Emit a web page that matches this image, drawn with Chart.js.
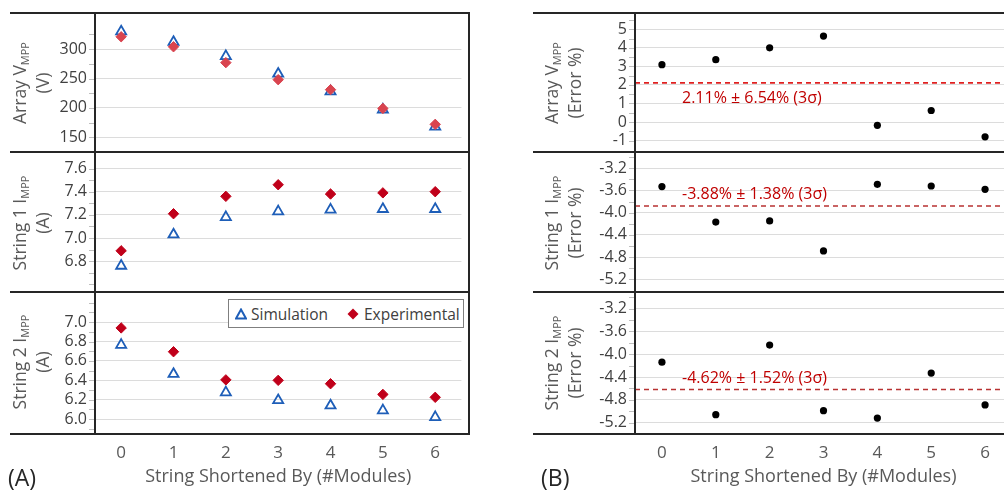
<!DOCTYPE html>
<html><head><meta charset="utf-8">
<script src="https://cdn.jsdelivr.net/npm/chart.js@4.4.1/dist/chart.umd.min.js"></script>
<style>
html,body{margin:0;padding:0;width:1004px;height:491px;overflow:hidden;background:#fff;}
body{position:relative;font-family:"Open Sans",sans-serif;}
.box{position:absolute;}
.hl{position:absolute;height:2px;background:#262626;z-index:5;}
.vl{position:absolute;width:2px;background:#262626;z-index:5;}
.yt{position:absolute;transform:translate(-50%,-50%) rotate(-90deg);white-space:nowrap;text-align:center;color:#595959;font-size:17.5px;line-height:23px;}
.yt sub{font-size:11px;vertical-align:-3px;line-height:0;}
.ann{position:absolute;color:#c00000;font-size:16px;white-space:nowrap;transform:translateY(-50%);z-index:6;}
.tag{position:absolute;font-size:23px;color:#262626;transform:translateY(-50%);}
.legend{position:absolute;left:228px;top:299px;width:234px;height:27px;border:1px solid #7f7f7f;background:#fff;z-index:6;color:#404040;font-size:15.5px;}
.legend span{position:absolute;top:50%;transform:translateY(-50%);white-space:nowrap;}
.legend svg{position:absolute;top:50%;transform:translateY(-50%);}
</style></head>
<body>
<script>
// ---------------- DATA ----------------
const modules = [0, 1, 2, 3, 4, 5, 6];
const xTickLabels = ['0', '1', '2', '3', '4', '5', '6'];

const simArrayV = [330, 312, 288, 258, 228, 197, 168];
const expArrayV = [321, 304, 277, 248, 231, 199, 172];
const simString1I = [6.76, 7.03, 7.18, 7.23, 7.245, 7.25, 7.25];
const expString1I = [6.89, 7.21, 7.36, 7.46, 7.38, 7.39, 7.40];
const simString2I = [6.765, 6.465, 6.275, 6.195, 6.14, 6.09, 6.02];
const expString2I = [6.94, 6.695, 6.405, 6.40, 6.365, 6.255, 6.225];

const errArrayV = [3.09, 3.36, 4.00, 4.63, -0.18, 0.62, -0.80];
const errString1I = [-3.53, -4.17, -4.15, -4.69, -3.49, -3.52, -3.58];
const errString2I = [-4.14, -5.06, -3.84, -4.99, -5.12, -4.33, -4.89];

const errMean = [2.11, -3.88, -4.62];
const errThreeSigma = [6.54, 1.38, 1.52];

const ticksA1 = [150, 200, 250, 300];
const ticksA2 = [6.8, 7.0, 7.2, 7.4, 7.6];
const ticksA3 = [6.0, 6.2, 6.4, 6.6, 6.8, 7.0];
const ticksB1 = [-1, 0, 1, 2, 3, 4, 5];
const ticksB2 = [-5.2, -4.8, -4.4, -4.0, -3.6, -3.2];
const ticksB3 = [-5.2, -4.8, -4.4, -4.0, -3.6, -3.2];
</script>

<!-- layout -->
<div class="box" id="pA1" style="left:45px;top:13px;width:424px;height:139px"><canvas id="cA1"></canvas></div>
<div class="box" id="pA2" style="left:45px;top:152px;width:424px;height:140px"><canvas id="cA2"></canvas></div>
<div class="box" id="pA3" style="left:45px;top:292px;width:424px;height:199px"><canvas id="cA3"></canvas></div>
<div class="box" id="pB1" style="left:585px;top:13px;width:431px;height:139px"><canvas id="cB1"></canvas></div>
<div class="box" id="pB2" style="left:585px;top:152px;width:431px;height:140px"><canvas id="cB2"></canvas></div>
<div class="box" id="pB3" style="left:585px;top:292px;width:431px;height:199px"><canvas id="cB3"></canvas></div>

<!-- frame lines -->
<div class="hl" style="left:10px;width:460px;top:12px"></div>
<div class="hl" style="left:10px;width:460px;top:151px"></div>
<div class="hl" style="left:10px;width:460px;top:291px"></div>
<div class="hl" style="left:10px;width:460px;top:433px"></div>
<div class="vl" style="left:94px;top:12px;height:423px"></div>
<div class="vl" style="left:468px;top:12px;height:423px"></div>
<div class="hl" style="left:533px;width:471px;top:12px"></div>
<div class="hl" style="left:533px;width:471px;top:151px"></div>
<div class="hl" style="left:533px;width:471px;top:291px"></div>
<div class="hl" style="left:533px;width:471px;top:433px"></div>
<div class="vl" style="left:634px;top:12px;height:423px"></div>

<!-- axis titles -->
<div class="yt" style="left:31px;top:83px">Array V<sub>MPP</sub><br>(V)</div>
<div class="yt" style="left:31px;top:223px">String 1 I<sub>MPP</sub><br>(A)</div>
<div class="yt" style="left:31px;top:362px">String 2 I<sub>MPP</sub><br>(A)</div>
<div class="yt" style="left:563px;top:83px">Array V<sub>MPP</sub><br>(Error %)</div>
<div class="yt" style="left:563px;top:223px">String 1 I<sub>MPP</sub><br>(Error %)</div>
<div class="yt" style="left:563px;top:363px">String 2 I<sub>MPP</sub><br>(Error %)</div>

<div class="tag" style="left:8px;top:477px">(A)</div>
<div class="tag" style="left:541px;top:477px">(B)</div>

<div class="ann" id="ann1" style="left:682px;top:97px"></div>
<div class="ann" id="ann2" style="left:682px;top:193px"></div>
<div class="ann" id="ann3" style="left:682px;top:377px"></div>

<div class="legend">
  <svg width="12" height="12" style="left:6px"><polygon points="6,1.5 11,10.5 1,10.5" fill="none" stroke="#1e5eb8" stroke-width="2"/></svg>
  <span style="left:22px">Simulation</span>
  <svg width="12" height="12" style="left:118px"><polygon points="6,0.5 11.5,6 6,11.5 0.5,6" fill="#c0001a"/></svg>
  <span style="left:135px">Experimental</span>
</div>

<script>
Chart.defaults.font.family = '"Open Sans", sans-serif';
Chart.defaults.animation = false;

const fmtPct = v => v.toFixed(2) + '%';
['ann1', 'ann2', 'ann3'].forEach((id, i) => {
  document.getElementById(id).textContent =
    fmtPct(errMean[i]) + ' \u00B1 ' + fmtPct(errThreeSigma[i]) + ' (3\u03C3)';
});

const minorTicks = {
  id: 'minorTicks',
  afterDraw(chart, args, opts) {
    const y = chart.scales.y, ctx = chart.ctx, a = chart.chartArea;
    const s = opts.step;
    if (!s) return;
    ctx.save();
    ctx.strokeStyle = '#bfbfbf';
    ctx.lineWidth = 1;
    const k0 = Math.ceil(y.min / s - 1e-6), k1 = Math.floor(y.max / s + 1e-6);
    for (let k = k0; k <= k1; k++) {
      const p = Math.round(y.getPixelForValue(k * s)) + 0.5;
      ctx.beginPath(); ctx.moveTo(a.left - 6, p); ctx.lineTo(a.left - 1, p); ctx.stroke();
    }
    ctx.restore();
  }
};

const pts = ys => modules.map((m, i) => ({ x: m, y: ys[i] }));

function makePanel(id, cfg) {
  const x = {
    type: 'linear', min: -0.5, max: 6.5, display: !!cfg.showX,
    grid: { display: false, drawTicks: false }, border: { display: false },
    afterBuildTicks: s => { s.ticks = modules.map(v => ({ value: v })); },
    ticks: { callback: (v, i) => xTickLabels[i], font: { size: 17 }, color: '#595959', padding: 9, maxRotation: 0, autoSkip: false },
    title: { display: true, text: 'String Shortened By (#Modules)', font: { size: 18 }, color: '#595959', padding: { top: 0, bottom: 3 } },
    afterFit: s => { if (cfg.showX) s.height = 57; else s.height = 0; s.paddingLeft = 0; s.paddingRight = 0; }
  };
  const y = {
    type: 'linear', min: cfg.min, max: cfg.max,
    afterBuildTicks: s => { s.ticks = cfg.ticks.map(v => ({ value: v })); },
    ticks: { callback: v => v.toFixed(cfg.dec), font: { size: 16 }, color: '#404040', padding: 8, autoSkip: false },
    grid: { color: '#dcdcdc', lineWidth: 1, drawTicks: false },
    border: { display: false },
    afterFit: s => { s.width = 50; s.paddingTop = 0; s.paddingBottom = 0; }
  };
  return new Chart(document.getElementById(id), {
    type: 'scatter',
    data: { datasets: cfg.datasets },
    options: {
      responsive: true, maintainAspectRatio: false, devicePixelRatio: 1,
      layout: { padding: 0 },
      scales: { x, y },
      plugins: { legend: { display: false }, tooltip: { enabled: false }, minorTicks: { step: cfg.minor } },
      events: []
    },
    plugins: [minorTicks]
  });
}

const simDs = (ys) => ({
  label: 'Simulation', data: pts(ys), order: 2,
  pointStyle: 'triangle', pointRadius: 5.8, pointBorderWidth: 1.8,
  pointBackgroundColor: 'rgba(255,255,255,0)', pointBorderColor: '#1e5eb8'
});
const expDs = (ys, col) => ({
  label: 'Experimental', data: pts(ys), order: 1,
  pointStyle: 'rectRot', pointRadius: 5.2, pointBorderWidth: 1,
  pointBackgroundColor: col, pointBorderColor: col
});
const errDs = (ys) => ({
  label: 'Error', data: pts(ys), order: 1,
  pointStyle: 'circle', pointRadius: 3.6, pointBorderWidth: 0,
  pointBackgroundColor: '#000', pointBorderColor: '#000'
});
const meanDs = (m, col) => ({
  label: 'Mean', data: [{ x: -0.5, y: m }, { x: 6.5, y: m }], order: 2,
  showLine: true, borderColor: col, borderWidth: 1.6, borderDash: [5, 4],
  pointRadius: 0
});

makePanel('cA1', { min: 137.9, max: 348.5, ticks: ticksA1, dec: 0, minor: 25,
  datasets: [simDs(simArrayV), expDs(expArrayV, '#d9444f')] });
makePanel('cA2', { min: 6.6, max: 7.677, ticks: ticksA2, dec: 1, minor: 0.1,
  datasets: [simDs(simString1I), expDs(expString1I, '#c0001a')] });
makePanel('cA3', { min: 5.847, max: 7.232, ticks: ticksA3, dec: 1, minor: 0.1, showX: true,
  datasets: [simDs(simString2I), expDs(expString2I, '#c0001a')] });

makePanel('cB1', { min: -1.40, max: 5.66, ticks: ticksB1, dec: 0, minor: 0.5,
  datasets: [errDs(errArrayV), meanDs(errMean[0], '#e02020')] });
makePanel('cB2', { min: -5.358, max: -2.979, ticks: ticksB2, dec: 1, minor: 0.2,
  datasets: [errDs(errString1I), meanDs(errMean[1], '#b83232')] });
makePanel('cB3', { min: -5.40, max: -2.978, ticks: ticksB3, dec: 1, minor: 0.2, showX: true,
  datasets: [errDs(errString2I), meanDs(errMean[2], '#b83232')] });
</script>
</body></html>
